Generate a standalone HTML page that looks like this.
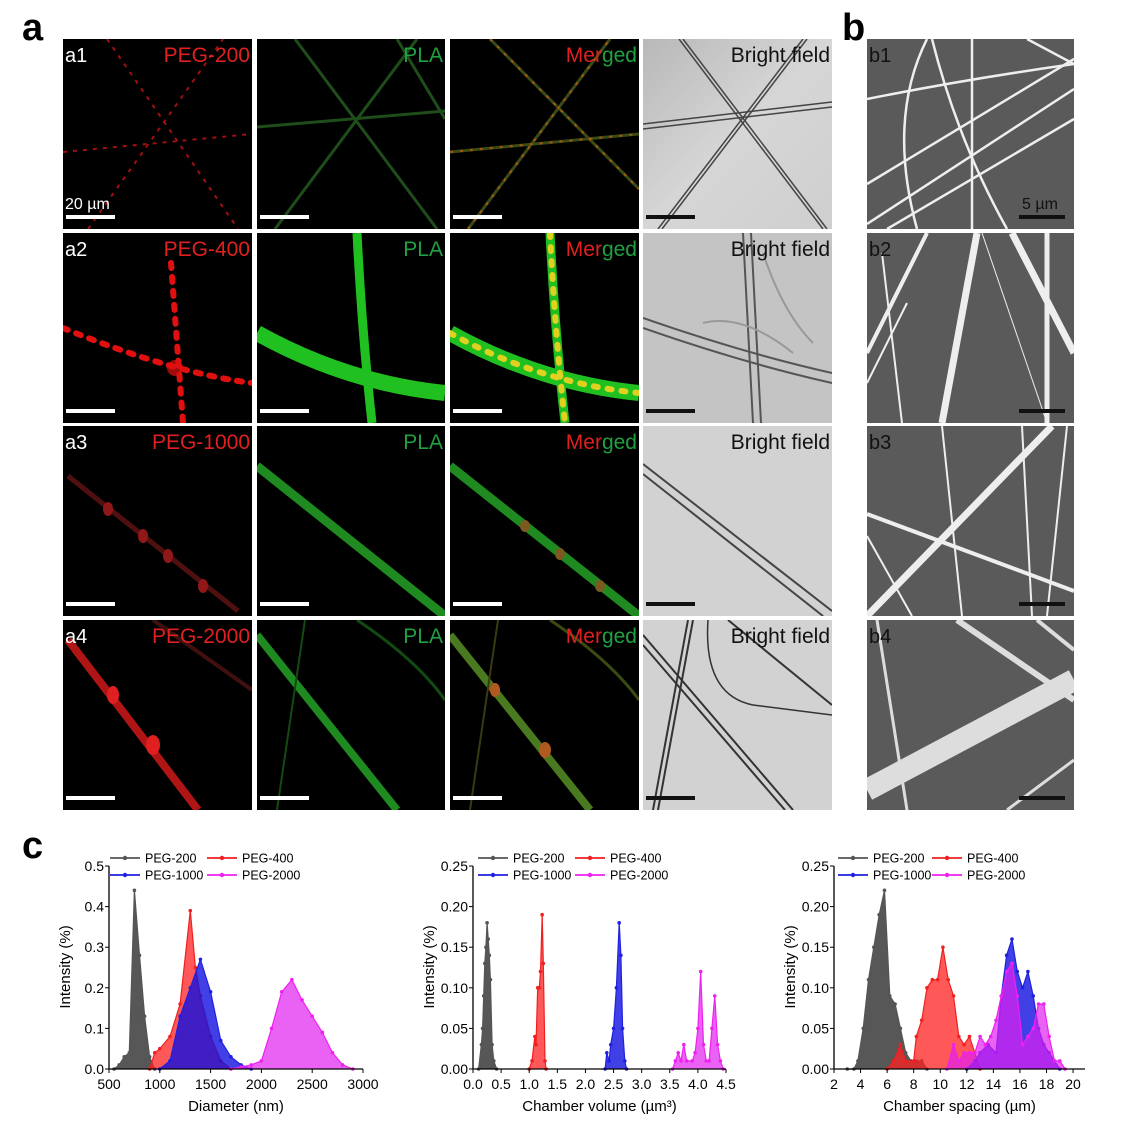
<!DOCTYPE html>
<html><head><meta charset="utf-8"><style>
body{margin:0;background:#fff;}
svg text{font-family:"Liberation Sans",Arial,sans-serif;}
</style></head><body>
<svg id="fig" width="1128" height="1129" viewBox="0 0 1128 1129" xmlns="http://www.w3.org/2000/svg">
<defs>
<linearGradient id="bf" x1="0" y1="0" x2="1" y2="1"><stop offset="0" stop-color="#b8b8b8"/><stop offset="0.5" stop-color="#d6d6d6"/><stop offset="1" stop-color="#cfcfcf"/></linearGradient>
</defs>
<text x="22" y="40" font-size="38" font-weight="bold">a</text>
<text x="842" y="40" font-size="38" font-weight="bold">b</text>
<text x="22" y="858" font-size="38" font-weight="bold">c</text>

<!-- Row a1 -->
<svg x="63" y="39" width="189" height="190" viewBox="0 0 189 190"><rect width="189" height="190" fill="#000"/>
<g stroke="#a01010" stroke-width="2" stroke-dasharray="4 6"><line x1="0" y1="113" x2="189" y2="95"/><line x1="44" y1="0" x2="175" y2="190"/><line x1="25" y1="190" x2="160" y2="0"/></g></svg>
<svg x="257" y="39" width="188" height="190" viewBox="0 0 188 190"><rect width="188" height="190" fill="#000"/>
<g stroke="#1f4d1a" stroke-width="3"><line x1="0" y1="88" x2="188" y2="72"/><line x1="38" y1="0" x2="180" y2="190"/><line x1="18" y1="190" x2="160" y2="0"/><line x1="140" y1="0" x2="188" y2="80"/></g></svg>
<svg x="450" y="39" width="189" height="190" viewBox="0 0 189 190"><rect width="189" height="190" fill="#000"/>
<g stroke="#3a4a15" stroke-width="3"><line x1="0" y1="113" x2="189" y2="95"/><line x1="40" y1="0" x2="189" y2="150"/><line x1="18" y1="190" x2="160" y2="0"/></g>
<g stroke="#a05a10" stroke-width="2" stroke-dasharray="3 7"><line x1="0" y1="113" x2="189" y2="95"/><line x1="40" y1="0" x2="189" y2="150"/><line x1="18" y1="190" x2="160" y2="0"/></g></svg>
<svg x="643" y="39" width="189" height="190" viewBox="0 0 189 190"><rect width="189" height="190" fill="url(#bf)"/>
<g stroke="#444" stroke-width="1.5" fill="none"><line x1="0" y1="85" x2="189" y2="63"/><line x1="0" y1="90" x2="189" y2="68"/><line x1="36" y1="0" x2="180" y2="190"/><line x1="40" y1="0" x2="184" y2="190"/><line x1="15" y1="190" x2="160" y2="0"/><line x1="19" y1="190" x2="164" y2="0"/></g></svg>
<svg x="867" y="39" width="207" height="190" viewBox="0 0 207 190"><rect width="207" height="190" fill="#5a5a5a"/>
<g stroke="#eee" stroke-width="2.5" fill="none"><path d="M0 60 Q100 40 207 25"/><line x1="0" y1="145" x2="207" y2="20"/><line x1="0" y1="185" x2="207" y2="50"/><line x1="20" y1="190" x2="207" y2="80"/><path d="M60 0 Q20 80 50 190"/><path d="M65 0 Q90 100 140 190"/><line x1="105" y1="0" x2="105" y2="190"/><line x1="160" y1="0" x2="207" y2="25"/></g></svg>

<!-- Row a2 -->
<svg x="63" y="233" width="189" height="190" viewBox="0 0 189 190"><rect width="189" height="190" fill="#000"/>
<g stroke="#e01010" stroke-width="6" stroke-linecap="round" stroke-dasharray="5 9" fill="none"><path d="M0 95 Q110 140 189 150"/><line x1="108" y1="30" x2="120" y2="190"/></g><circle cx="112" cy="135" r="8" fill="#e01010" opacity="0.7"/></svg>
<svg x="257" y="233" width="188" height="190" viewBox="0 0 188 190"><rect width="188" height="190" fill="#000"/>
<g stroke="#20c020" fill="none"><path d="M0 100 Q90 150 188 160" stroke-width="16"/><path d="M100 0 Q105 100 115 190" stroke-width="9"/></g></svg>
<svg x="450" y="233" width="189" height="190" viewBox="0 0 189 190"><rect width="189" height="190" fill="#000"/>
<g stroke="#20c020" fill="none"><path d="M0 100 Q90 150 189 160" stroke-width="16"/><path d="M100 0 Q105 100 115 190" stroke-width="9"/></g>
<g stroke="#e0d020" stroke-width="6" stroke-linecap="round" stroke-dasharray="4 10" fill="none"><path d="M0 100 Q90 150 189 160"/><path d="M100 0 Q105 100 115 190"/></g></svg>
<svg x="643" y="233" width="189" height="190" viewBox="0 0 189 190"><rect width="189" height="190" fill="#c4c4c4"/>
<g stroke="#555" stroke-width="2" fill="none"><path d="M0 85 Q100 120 189 140"/><path d="M0 95 Q100 130 189 150"/><line x1="100" y1="0" x2="110" y2="190"/><line x1="108" y1="0" x2="118" y2="190"/></g>
<g stroke="#999" stroke-width="2" fill="none"><path d="M60 90 Q100 80 150 120"/><path d="M120 20 Q140 80 170 110"/></g></svg>
<svg x="867" y="233" width="207" height="190" viewBox="0 0 207 190"><rect width="207" height="190" fill="#5a5a5a"/>
<g stroke="#eee" fill="none"><line x1="60" y1="0" x2="0" y2="120" stroke-width="4"/><line x1="15" y1="20" x2="35" y2="190" stroke-width="2"/><line x1="110" y1="0" x2="75" y2="190" stroke-width="7"/><line x1="115" y1="0" x2="180" y2="190" stroke-width="1"/><line x1="145" y1="0" x2="207" y2="120" stroke-width="7"/><line x1="180" y1="0" x2="180" y2="190" stroke-width="5"/><line x1="0" y1="150" x2="40" y2="70" stroke-width="2"/></g></svg>

<!-- Row a3 -->
<svg x="63" y="426" width="189" height="190" viewBox="0 0 189 190"><rect width="189" height="190" fill="#000"/>
<line x1="5" y1="50" x2="175" y2="185" stroke="#501010" stroke-width="5"/><g fill="#901818"><ellipse cx="45" cy="83" rx="5" ry="7"/><ellipse cx="80" cy="110" rx="5" ry="7"/><ellipse cx="105" cy="130" rx="5" ry="7"/><ellipse cx="140" cy="160" rx="5" ry="7"/></g></svg>
<svg x="257" y="426" width="188" height="190" viewBox="0 0 188 190"><rect width="188" height="190" fill="#000"/>
<line x1="0" y1="40" x2="188" y2="190" stroke="#1f8a1f" stroke-width="9"/></svg>
<svg x="450" y="426" width="189" height="190" viewBox="0 0 189 190"><rect width="189" height="190" fill="#000"/>
<line x1="0" y1="40" x2="189" y2="190" stroke="#1f8a1f" stroke-width="9"/><g fill="#7a5a20"><ellipse cx="75" cy="100" rx="5" ry="6"/><ellipse cx="110" cy="128" rx="5" ry="6"/><ellipse cx="150" cy="160" rx="5" ry="6"/></g></svg>
<svg x="643" y="426" width="189" height="190" viewBox="0 0 189 190"><rect width="189" height="190" fill="#d2d2d2"/>
<g stroke="#444" stroke-width="2"><line x1="0" y1="38" x2="189" y2="185"/><line x1="0" y1="48" x2="180" y2="190"/></g></svg>
<svg x="867" y="426" width="207" height="190" viewBox="0 0 207 190"><rect width="207" height="190" fill="#5a5a5a"/>
<g stroke="#eee" fill="none"><line x1="0" y1="190" x2="185" y2="0" stroke-width="7"/><line x1="0" y1="88" x2="207" y2="165" stroke-width="4"/><line x1="75" y1="0" x2="95" y2="190" stroke-width="2"/><line x1="155" y1="0" x2="165" y2="190" stroke-width="2"/><line x1="0" y1="110" x2="45" y2="190" stroke-width="2"/><line x1="200" y1="0" x2="180" y2="190" stroke-width="2"/></g></svg>

<!-- Row a4 -->
<svg x="63" y="620" width="189" height="190" viewBox="0 0 189 190"><rect width="189" height="190" fill="#000"/>
<line x1="5" y1="20" x2="135" y2="190" stroke="#b01515" stroke-width="8"/><line x1="90" y1="0" x2="189" y2="70" stroke="#401010" stroke-width="4"/><g fill="#e02020"><ellipse cx="50" cy="75" rx="6" ry="9"/><ellipse cx="90" cy="125" rx="7" ry="10"/></g></svg>
<svg x="257" y="620" width="188" height="190" viewBox="0 0 188 190"><rect width="188" height="190" fill="#000"/>
<line x1="0" y1="15" x2="140" y2="190" stroke="#1f8a1f" stroke-width="8"/><line x1="48" y1="0" x2="20" y2="190" stroke="#124a12" stroke-width="2"/><path d="M100 0 Q160 40 188 80" stroke="#124a12" stroke-width="3" fill="none"/></svg>
<svg x="450" y="620" width="189" height="190" viewBox="0 0 189 190"><rect width="189" height="190" fill="#000"/>
<line x1="0" y1="15" x2="140" y2="190" stroke="#4a7a1f" stroke-width="8"/><line x1="48" y1="0" x2="20" y2="190" stroke="#3a3a12" stroke-width="2"/><path d="M100 0 Q160 40 189 80" stroke="#3a4a12" stroke-width="3" fill="none"/><g fill="#b05a20"><ellipse cx="45" cy="70" rx="5" ry="7"/><ellipse cx="95" cy="130" rx="6" ry="8"/></g></svg>
<svg x="643" y="620" width="189" height="190" viewBox="0 0 189 190"><rect width="189" height="190" fill="#d2d2d2"/>
<g stroke="#333" stroke-width="2" fill="none"><line x1="0" y1="15" x2="150" y2="190"/><line x1="0" y1="25" x2="142" y2="190"/><line x1="45" y1="0" x2="10" y2="190"/><line x1="50" y1="0" x2="15" y2="190"/><path d="M65 0 Q60 75 110 85 L189 95" stroke-width="1.5"/><line x1="85" y1="0" x2="189" y2="85"/></g></svg>
<svg x="867" y="620" width="207" height="190" viewBox="0 0 207 190"><rect width="207" height="190" fill="#5a5a5a"/>
<g stroke="#ddd" fill="none"><line x1="0" y1="170" x2="207" y2="60" stroke-width="22"/><line x1="90" y1="0" x2="207" y2="80" stroke-width="6"/><line x1="10" y1="0" x2="40" y2="190" stroke-width="3"/><line x1="207" y1="140" x2="140" y2="190" stroke-width="3"/><line x1="170" y1="0" x2="207" y2="30" stroke-width="4"/></g></svg>

<g id="labels"></g>
<g id="charts"></g>
</svg>
<script>
var NS='http://www.w3.org/2000/svg';
function mk(tag,attrs,parent,txt){var e=document.createElementNS(NS,tag);for(var k in attrs)e.setAttribute(k,attrs[k]);if(txt!==undefined)e.textContent=txt;parent.appendChild(e);return e;}
var L=document.getElementById('labels');
var colX=[63,257,450,643], rowY=[39,233,426,620], colW=[189,188,189,189];
var pegNames=['PEG-200','PEG-400','PEG-1000','PEG-2000'];
for(var r=0;r<4;r++){
  var y=rowY[r];
  var t=mk('text',{x:65,y:y+23,'font-size':20,fill:'#fff'},L,'a'+(r+1));
  
  
  t=mk('text',{x:colX[0]+colW[0]-2,y:y+23,'font-size':21,fill:'#e02020','text-anchor':'end'},L,pegNames[r]);
  
  
  t=mk('text',{x:colX[1]+colW[1]-2,y:y+23,'font-size':21,fill:'#20a040','text-anchor':'end'},L,'PLA');
  
  
  t=mk('text',{x:colX[2]+colW[2]-2,y:y+23,'font-size':21,'text-anchor':'end'},L);
  
  
  mk('tspan',{fill:'#e02020'},t,'Mer');mk('tspan',{fill:'#20a040'},t,'ged');
  t=mk('text',{x:colX[3]+colW[3]-2,y:y+23,'font-size':21,fill:'#111','text-anchor':'end'},L,'Bright field');
  
  
  t=mk('text',{x:869,y:y+23,'font-size':20,fill:'#111'},L,'b'+(r+1));
  
  
  for(var c=0;c<4;c++){
    var sb=mk('rect',{x:colX[c]+3,y:y+176,width:49,height:4,fill:c==3?'#111':'#fff'},L);
    
    
  }
  var sb2=mk('rect',{x:1019,y:y+176,width:46,height:4,fill:'#111'},L);
  
  
}
var t1=mk('text',{x:65,y:209,'font-size':16,fill:'#fff'},L,'20 µm');


var t2=mk('text',{x:1022,y:209,'font-size':16,fill:'#111'},L,'5 µm');



/* ---------- chart data ---------- */
var seriesNames=['PEG-200','PEG-400','PEG-1000','PEG-2000'];
// Chart 1: Diameter (nm)
var d200x=[550,600,650,700,750,800,850,900,950];
var d200y=[0,0.01,0.03,0.04,0.44,0.28,0.13,0.03,0];
var d400x=[900,950,1000,1100,1200,1300,1350,1400,1500,1600,1700];
var d400y=[0,0.04,0.05,0.08,0.16,0.39,0.25,0.18,0.08,0.02,0];
var d1000x=[1000,1100,1200,1300,1400,1500,1600,1700,1800,1900];
var d1000y=[0,0.02,0.13,0.20,0.27,0.19,0.07,0.03,0.01,0];
var d2000x=[1700,1800,1900,2000,2100,2200,2300,2400,2500,2600,2700,2800,2900];
var d2000y=[0,0.005,0.01,0.02,0.10,0.19,0.22,0.17,0.13,0.09,0.04,0.01,0];
var c1xTicks=[500,1000,1500,2000,2500,3000];
var c1yTicks=['0.0','0.1','0.2','0.3','0.4','0.5'];
// Chart 2: Chamber volume
var v200x=[0.10,0.15,0.17,0.19,0.21,0.23,0.25,0.27,0.29,0.31,0.34,0.37,0.42];
var v200y=[0,0.03,0.05,0.09,0.13,0.15,0.18,0.16,0.14,0.11,0.03,0.01,0];
var v400x=[1.00,1.05,1.10,1.12,1.15,1.18,1.20,1.23,1.25,1.28,1.30];
var v400y=[0,0.01,0.04,0.03,0.10,0.10,0.12,0.19,0.13,0.01,0];
var v1000x=[2.35,2.38,2.42,2.45,2.50,2.55,2.60,2.63,2.66,2.70,2.73];
var v1000y=[0,0.02,0.01,0.03,0.05,0.10,0.18,0.14,0.05,0.01,0];
var v2000x=[3.55,3.60,3.65,3.70,3.75,3.80,3.90,3.95,4.00,4.05,4.10,4.15,4.20,4.25,4.30,4.35,4.40,4.45];
var v2000y=[0,0.01,0.02,0.01,0.03,0.01,0.01,0.02,0.05,0.12,0.03,0.01,0.01,0.05,0.09,0.03,0.01,0];
var c2xTicks=['0.0','0.5','1.0','1.5','2.0','2.5','3.0','3.5','4.0','4.5'];
var c2yTicks=['0.00','0.05','0.10','0.15','0.20','0.25'];
// Chart 3: Chamber spacing
var s200x=[3,3.5,3.8,4.2,4.6,5,5.4,5.8,6.2,6.6,7,7.4,7.8,8.2,8.6,9];
var s200y=[0,0,0.01,0.05,0.11,0.15,0.19,0.22,0.09,0.08,0.05,0.02,0.01,0.01,0.01,0];
var s400x=[6,6.5,7,7.4,8,8.2,8.6,9,9.4,9.8,10.2,10.6,11,11.4,11.8,12.2,12.6,13];
var s400y=[0,0.01,0.03,0.01,0.01,0.04,0.06,0.10,0.11,0.11,0.15,0.11,0.09,0.04,0.03,0.04,0.02,0];
var s1000x=[12,12.6,13,13.6,14.2,14.6,15,15.4,15.8,16.2,16.6,17,17.4,17.8,18.2,18.6,19];
var s1000y=[0,0.01,0.02,0.03,0.02,0.09,0.14,0.16,0.12,0.10,0.12,0.09,0.05,0.03,0.02,0.01,0];
var s2000x=[10.5,11,11.4,11.8,12.2,12.6,13,13.4,13.8,14.2,14.6,15,15.4,15.8,16.2,16.6,17,17.4,17.8,18.2,18.6,19,19.4];
var s2000y=[0,0.03,0.01,0.02,0.02,0.02,0.04,0.03,0.04,0.06,0.09,0.12,0.13,0.09,0.03,0.04,0.05,0.08,0.08,0.04,0.01,0.01,0];
var c3xTicks=[2,4,6,8,10,12,14,16,18,20];
var c3yTicks=['0.00','0.05','0.10','0.15','0.20','0.25'];

var colors=['#555555','#f02020','#2020e0','#f020f0'];
var fills=['#3a3a3a','#ff2020','#1010e0','#e020f0'];
var fillOp=[0.85,0.75,0.8,0.7];
var C=document.getElementById('charts');

function chart(name,x0,x1,xmin,xmax,ymax,xTicks,yTicks,xs,ys,xtitle,legLine,legCol2){
  var top=866,bot=1069;
  var g=mk('g',{},C);
  
  
  function sx(v){return x0+(v-xmin)/(xmax-xmin)*(x1-x0);}
  function sy(v){return bot-v/ymax*(bot-top);}
  for(var i=0;i<4;i++){
    var pts=[],p='';
    for(var j=0;j<xs[i].length;j++){pts.push(sx(xs[i][j]).toFixed(1)+','+sy(ys[i][j]).toFixed(1));}
    var area=mk('polygon',{points:sx(xs[i][0]).toFixed(1)+','+bot+' '+pts.join(' ')+' '+sx(xs[i][xs[i].length-1]).toFixed(1)+','+bot,fill:fills[i],'fill-opacity':fillOp[i],stroke:'none'},g);
    
    
    var ln=mk('polyline',{points:pts.join(' '),fill:'none',stroke:colors[i],'stroke-width':1.2},g);
    
    
    for(var j=0;j<xs[i].length;j++){
      var m=mk('circle',{cx:sx(xs[i][j]),cy:sy(ys[i][j]),r:1.8,fill:colors[i]},g);
      
      
    }
  }
  var ax=mk('path',{d:'M'+x0+' '+top+' V'+bot+' H'+x1,fill:'none',stroke:'#000','stroke-width':1.3},g);
  
  
  for(var i=0;i<xTicks.length;i++){
    var v=parseFloat(xTicks[i]),X=sx(v);
    mk('line',{x1:X,y1:bot,x2:X,y2:bot+4,stroke:'#000'},g);
    var tl=mk('text',{x:X,y:bot+20,'font-size':14,'text-anchor':'middle'},g,xTicks[i]);
    
    
  }
  for(var i=0;i<yTicks.length;i++){
    var Y=sy(parseFloat(yTicks[i]));
    mk('line',{x1:x0-4,y1:Y,x2:x0,y2:Y,stroke:'#000'},g);
    var tl=mk('text',{x:x0-5,y:Y+5,'font-size':14,'text-anchor':'end'},g,yTicks[i]);
    
    
  }
  var xt=mk('text',{x:(x0+x1)/2,y:1111,'font-size':15,'text-anchor':'middle'},g,xtitle);
  
  
  var yt=mk('text',{x:0,y:0,'font-size':15,'text-anchor':'middle',transform:'translate('+(x0-39)+',967) rotate(-90)'},g,'Intensity (%)');
  
  
  var lx=[legLine,legCol2],ly=[858,875];
  for(var i=0;i<4;i++){
    var cx=lx[i%2],cy=ly[Math.floor(i/2)];
    var le=mk('g',{},g);
    
    
    mk('line',{x1:cx,y1:cy,x2:cx+30,y2:cy,stroke:colors[i],'stroke-width':1.8},le);
    mk('circle',{cx:cx+15,cy:cy,r:2.2,fill:colors[i]},le);
    mk('text',{x:cx+35,y:cy+4.5,'font-size':12.5},le,seriesNames[i]);
  }
}
chart('chart-diameter',109,363,500,3000,0.5,c1xTicks,c1yTicks,[d200x,d400x,d1000x,d2000x],[d200y,d400y,d1000y,d2000y],'Diameter (nm)',110,207);
chart('chart-chamber-volume',473,726,0,4.5,0.25,c2xTicks,c2yTicks,[v200x,v400x,v1000x,v2000x],[v200y,v400y,v1000y,v2000y],'Chamber volume (µm³)',478,575);
chart('chart-chamber-spacing',834,1085,2,20.9,0.25,c3xTicks,c3yTicks,[s200x,s400x,s1000x,s2000x],[s200y,s400y,s1000y,s2000y],'Chamber spacing (µm)',838,932);
</script>
</body></html>
